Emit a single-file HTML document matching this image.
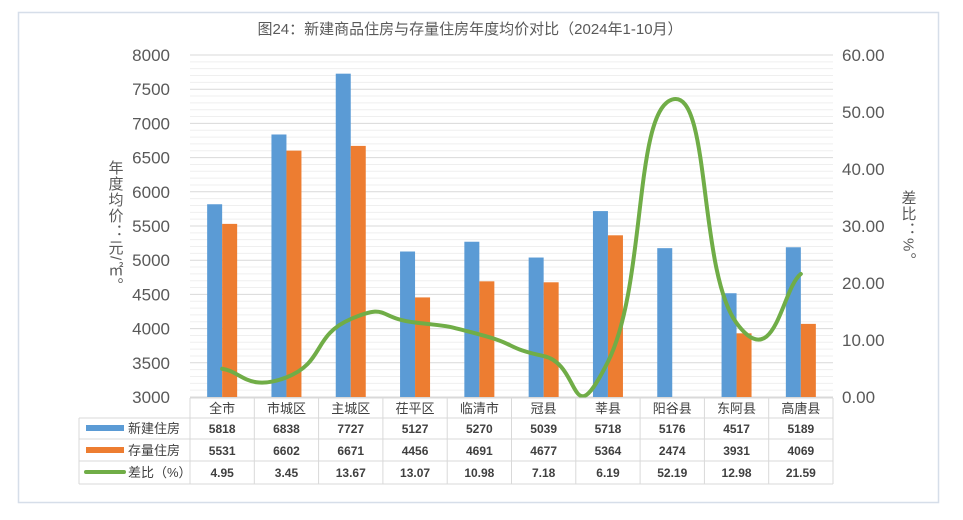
<!DOCTYPE html>
<html><head><meta charset="utf-8"><style>
body{margin:0;background:#fff;font-family:"Liberation Sans","Noto Sans CJK SC",sans-serif;}
svg text{font-family:"Liberation Sans","Noto Sans CJK SC",sans-serif;}
</style></head><body>
<svg id="c" width="963" height="515" viewBox="0 0 963 515">
<rect x="18.5" y="12.5" width="920" height="490" fill="#fff" stroke="#d6dee9" stroke-width="1.5"/>
<text x="470" y="34" text-anchor="middle" font-size="15" fill="#595959">图24：新建商品住房与存量住房年度均价对比（2024年1-10月）</text>
<g id="grid"></g><g id="bars"></g><g id="line"></g><g id="axes"></g><g id="table"></g>
<text x="115" y="160" font-size="15" fill="#595959" writing-mode="tb" letter-spacing="1">年度均价：元/㎡。</text>
<text x="908" y="190" font-size="15" fill="#595959" writing-mode="tb" letter-spacing="1">差比：%。</text>
</svg>
<script>
const categories=["全市","市城区","主城区","茌平区","临清市","冠县","莘县","阳谷县","东阿县","高唐县"];
const newHousing=[5818,6838,7727,5127,5270,5039,5718,5176,4517,5189];
const stockHousing=[5531,6602,6671,4456,4691,4677,5364,2474,3931,4069];
const diffPct=[4.95,3.45,13.67,13.07,10.98,7.18,6.19,52.19,12.98,21.59];
const leftTicks=[3000,3500,4000,4500,5000,5500,6000,6500,7000,7500,8000];
const rightTicks=[0,10,20,30,40,50,60];
const NS="http://www.w3.org/2000/svg";
const X0=190,X1=833,YT=55,YB=397;
const cw=(X1-X0)/categories.length;
const yL=v=>YB-(v-3000)/5000*(YB-YT);
const yR=v=>YB-v/60*(YB-YT);
const xc=i=>X0+cw*(i+0.5);
function mk(p,t,a){const e=document.createElementNS(NS,t);for(const k in a)e.setAttribute(k,a[k]);document.getElementById(p).appendChild(e);return e;}
for(let v=3000;v<=8000;v+=100){const l=mk('grid','line',{x1:X0,x2:X1,y1:yL(v),y2:yL(v),stroke:v%500==0?'#d9d9d9':'#efefef','stroke-width':1});
}
leftTicks.forEach(v=>{const t=mk('axes','text',{x:170,y:yL(v)+6,'text-anchor':'end','font-size':17,fill:'#595959'});t.textContent=v;
});
rightTicks.forEach(v=>{const t=mk('axes','text',{x:842,y:yR(v)+6,'font-size':17,fill:'#595959'});t.textContent=v.toFixed(2);
});
const bw=15;
categories.forEach((c,i)=>{
const b=mk('bars','rect',{x:xc(i)-bw,y:yL(newHousing[i]),width:bw,height:Math.max(0,YB-yL(newHousing[i])),fill:'#5b9bd5'});

const sy=Math.min(YB,yL(stockHousing[i]));
const o=mk('bars','rect',{x:xc(i),y:sy,width:bw,height:Math.max(0,YB-sy),fill:'#ed7d31'});

});
const pts=diffPct.map((v,i)=>[xc(i),yR(v)]);
let d=`M${pts[0][0]},${pts[0][1]}`;
for(let i=0;i<pts.length-1;i++){const p0=pts[Math.max(0,i-1)],p1=pts[i],p2=pts[i+1],p3=pts[Math.min(pts.length-1,i+2)];
const k=0.3;
d+=` C${p1[0]+(p2[0]-p0[0])*k},${p1[1]+(p2[1]-p0[1])*k} ${p2[0]-(p3[0]-p1[0])*k},${p2[1]-(p3[1]-p1[1])*k} ${p2[0]},${p2[1]}`;}
const ln=mk('line','path',{d:d,fill:'none',stroke:'#70ad47','stroke-width':4,'stroke-linecap':'round'});

// table
const rows=[398,418,439,461,484];
const tc='#d9d9d9';
mk('table','line',{x1:X0,x2:X1,y1:rows[0],y2:rows[0],stroke:tc});
for(let r=1;r<rows.length;r++)mk('table','line',{x1:79,x2:X1,y1:rows[r],y2:rows[r],stroke:tc});
mk('table','line',{x1:79,x2:79,y1:rows[1],y2:rows[4],stroke:tc});
for(let i=0;i<=categories.length;i++)mk('table','line',{x1:X0+cw*i,x2:X0+cw*i,y1:rows[0],y2:rows[4],stroke:tc});
categories.forEach((c,i)=>{const t=mk('table','text',{x:xc(i),y:413,'text-anchor':'middle','font-size':13,fill:'#404040'});t.textContent=c;

[[newHousing[i],433],[stockHousing[i],455],[diffPct[i].toFixed(2),477]].forEach(([v,y])=>{const s=mk('table','text',{x:xc(i),y:y,'text-anchor':'middle','font-size':12,'font-weight':'bold',fill:'#404040'});s.textContent=v;
});});
const leg=[['新建住房','#5b9bd5',428,'rect'],['存量住房','#ed7d31',450,'rect'],['差比（%）','#70ad47',472,'line']];
leg.forEach(([n,c,y,ty])=>{if(ty=='rect')mk('table','rect',{x:86,y:y-3,width:38,height:6,fill:c});else mk('table','line',{x1:86,x2:124,y1:y,y2:y,stroke:c,'stroke-width':4,'stroke-linecap':'round'});
const t=mk('table','text',{x:128,y:y+5,'font-size':13,fill:'#404040'});t.textContent=n;
});
</script>
</body></html>
